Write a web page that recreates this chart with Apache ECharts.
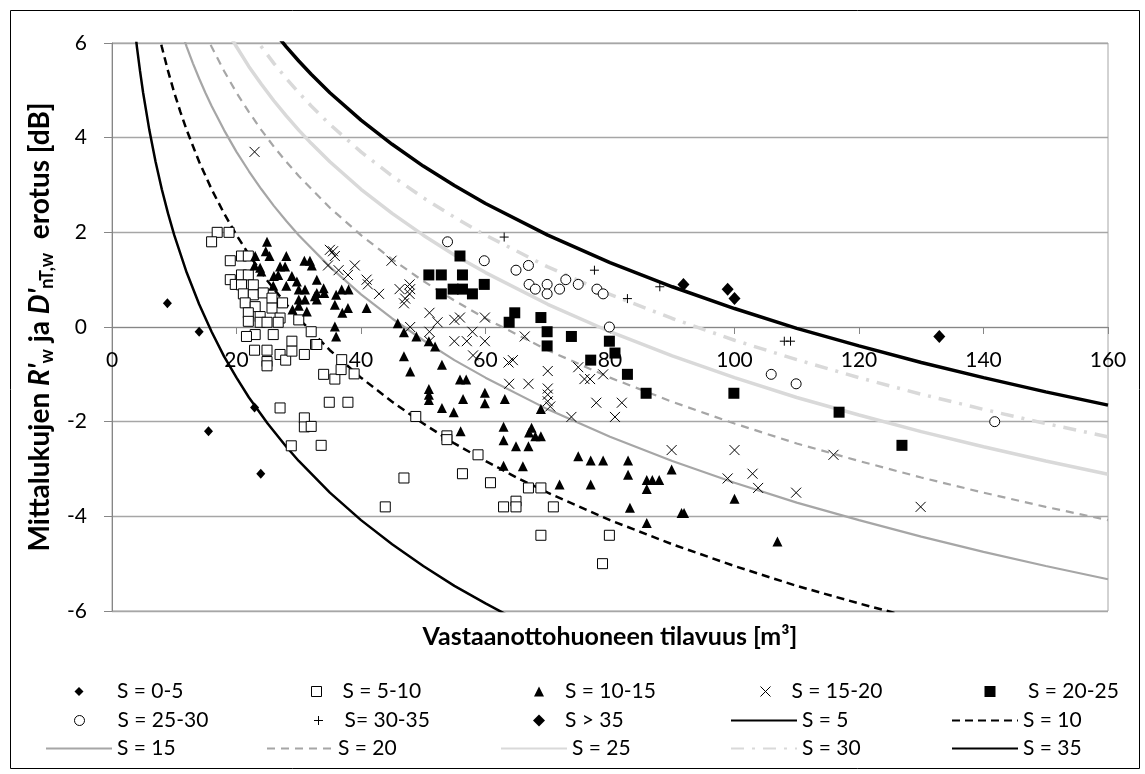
<!DOCTYPE html>
<html><head><meta charset="utf-8">
<script src="https://cdn.jsdelivr.net/npm/echarts/dist/echarts.min.js"></script>
<style>html,body{margin:0;padding:0;background:#fff}#c{width:1145px;height:774px}</style>
</head><body><div id="c"></div>
<script>
// ---- axis ticks ----
const xTicks = [0, 20, 40, 60, 80, 100, 120, 140, 160];
const yTicks = [-6, -4, -2, 0, 2, 4, 6];

// ---- measured points [volume m3, difference dB] ----
const s0_5 = [[8.9,0.5],[14.0,-0.1],[22.9,-1.7],[15.5,-2.2],[23.9,-3.1]];
const s5_10 = [[16.9,2.0],[18.8,2.0],[16.0,1.8],[19.0,1.4],[20.8,1.5],[21.9,1.5],[19.0,1.0],[19.8,0.9],[20.8,1.1],[21.9,1.1],
  [20.8,0.89],[22.7,0.89],[21.1,0.7],[22.7,0.68],[24.3,0.72],[21.4,0.51],[23.0,0.43],[25.7,0.61],[27.4,0.51],[25.7,0.4],
  [21.9,0.3],[23.8,0.22],[27.0,0.19],[21.9,0.12],[23.8,0.1],[24.9,0.1],[26.7,0.1],[30.0,0.15],[32.0,-0.1],[23.0,-0.16],
  [25.9,-0.16],[21.6,-0.2],[28.9,-0.3],[22.9,-0.49],[24.9,-0.49],[24.9,-0.73],[24.9,-0.82],[27.0,-0.58],[27.9,-0.7],[28.9,-0.51],
  [30.9,-0.58],[32.7,-0.37],[32.9,-0.37],[27.0,-1.71],[30.9,-1.92],[30.9,-2.11],[32.0,-2.1],[28.8,-2.51],[33.6,-2.5],[34.0,-1.0],
  [35.8,-1.1],[36.9,-0.69],[36.8,-0.9],[38.9,-0.99],[34.9,-1.59],[37.9,-1.59],[48.8,-1.89],[53.8,-2.3],[53.8,-2.38],[58.8,-2.7],
  [56.3,-3.1],[60.8,-3.29],[46.9,-3.19],[43.9,-3.8],[62.9,-3.8],[66.9,-3.4],[68.9,-3.4],[64.9,-3.68],[64.9,-3.8],[70.9,-3.8],
  [68.9,-4.4],[79.9,-4.4],[78.8,-5.0]];
const s10_15 = [[24.9,1.8],[24.7,1.6],[23.0,1.5],[25.3,1.5],[28.0,1.5],[30.9,1.4],[31.8,1.4],[32.1,1.3],[22.9,1.3],[23.8,1.25],
  [27.0,1.28],[27.8,1.28],[24.0,1.17],[26.0,1.08],[26.7,1.1],[28.9,1.08],[32.9,1.0],[25.9,0.87],[28.0,0.87],[29.7,0.96],
  [30.0,0.79],[31.0,0.79],[32.6,0.65],[30.0,0.58],[31.0,0.58],[29.0,0.37],[31.3,0.33],[30.0,0.45],[34.0,0.82],[32.9,0.72],
  [34.1,0.72],[32.9,0.58],[36.0,0.68],[36.9,0.79],[38.0,0.79],[35.8,0.47],[37.9,0.40],[37.0,0.30],[40.9,0.40],[45.9,0.08],
  [46.9,-0.11],[48.9,-0.2],[50.9,-0.3],[51.9,-0.41],[35.8,0.01],[36.0,-0.2],[46.9,-0.62],[47.9,-0.94],[53.0,-0.8],[55.9,-1.11],
  [56.9,-1.11],[50.9,-1.31],[50.9,-1.43],[50.9,-1.54],[53.0,-1.71],[54.9,-1.8],[56.4,-1.52],[59.9,-1.39],[59.9,-1.61],[63.1,-1.52],
  [56.0,-2.2],[62.9,-2.11],[62.9,-2.39],[62.9,-2.93],[64.9,-2.52],[66.9,-2.52],[67.4,-2.13],[67.0,-2.23],[68.0,-2.31],[68.9,-2.31],
  [68.9,-1.73],[66.0,-2.94],[71.9,-3.33],[74.9,-2.73],[76.9,-2.82],[78.9,-2.82],[76.9,-3.33],[82.9,-2.82],[82.9,-3.12],[85.9,-3.23],
  [86.8,-3.23],[87.9,-3.23],[85.9,-3.42],[89.9,-3.01],[83.2,-3.82],[85.9,-4.14],[91.5,-3.93],[91.9,-3.93],[100.0,-3.63],[106.9,-4.53]];
const s15_20 = [[22.9,3.7],[35.0,1.63],[35.5,1.6],[35.8,1.5],[34.7,1.3],[36.4,1.2],[39.0,1.3],[37.9,1.1],[44.9,1.4],[40.9,1.0],
  [41.1,0.9],[42.9,0.7],[46.2,0.8],[47.8,0.9],[47.9,0.8],[47.1,0.6],[46.9,0.5],[47.8,0.7],[51.0,0.3],[52.3,0.1],
  [55.0,0.15],[55.9,0.2],[59.9,0.2],[47.9,0.0],[51.0,-0.1],[51.0,-0.3],[57.9,-0.1],[55.0,-0.3],[57.0,-0.3],[59.9,-0.3],
  [58.0,-0.6],[63.7,-0.75],[63.8,-1.2],[66.3,-0.2],[64.4,-0.7],[70.0,-0.93],[74.9,-0.85],[75.9,-1.1],[76.8,-1.1],[78.9,-1.0],
  [66.9,-1.2],[70.0,-1.3],[70.0,-1.43],[70.0,-1.57],[70.4,-1.68],[77.8,-1.6],[81.9,-1.6],[73.8,-1.9],[80.8,-1.9],[89.9,-2.6],
  [100.0,-2.6],[115.9,-2.7],[98.9,-3.2],[102.9,-3.1],[103.8,-3.4],[109.9,-3.5],[129.9,-3.8]];
const s20_25 = [[55.9,1.5],[50.9,1.1],[52.9,1.1],[56.3,1.1],[52.9,0.7],[54.8,0.8],[56.3,0.8],[57.9,0.7],[59.8,0.9],[63.8,0.1],
  [64.7,0.3],[68.9,0.2],[69.9,-0.1],[69.9,-0.4],[73.8,-0.2],[79.9,-0.3],[76.9,-0.7],[80.8,-0.55],[82.8,-1.0],[85.8,-1.4],
  [99.9,-1.4],[116.8,-1.8],[126.9,-2.5]];
const s25_30 = [[53.9,1.8],[59.8,1.4],[64.9,1.2],[66.9,1.3],[67.0,0.9],[68.0,0.8],[69.9,0.9],[69.9,0.7],[71.9,0.8],[72.9,1.0],
  [74.9,0.9],[77.9,0.8],[78.9,0.7],[79.9,0.0],[105.9,-1.0],[109.9,-1.2],[141.8,-2.0]];
const s30_35 = [[63.0,1.9],[77.5,1.2],[88.0,0.85],[82.8,0.6],[108.0,-0.3],[109.0,-0.3]];
const s35p = [[91.8,0.9],[98.9,0.8],[100.0,0.6],[132.9,-0.2]];

// ---- reference curves (tabulated values) ----
const c5  = [[3.5,6.50],[4,5.92],[4.5,5.41],[5,4.95],[6,4.16],[7,3.49],[8,2.91],[9,2.40],[10,1.94],[12,1.15],[14,0.48],[16,-0.10],[18,-0.62],[20,-1.07],[22,-1.49],[25,-2.04],[28,-2.53],[30,-2.83],[35,-3.50],[40,-4.08],[45,-4.59],[50,-5.05],[55,-5.47],[60,-5.84],[65,-6.19]];
const c10 = [[7,6.50],[8,5.92],[9,5.41],[10,4.95],[11,4.54],[12,4.16],[14,3.49],[16,2.91],[18,2.40],[20,1.94],[22,1.53],[25,0.97],[28,0.48],[30,0.18],[35,-0.49],[40,-1.07],[45,-1.58],[50,-2.04],[55,-2.46],[60,-2.83],[65,-3.18],[70,-3.50],[80,-4.08],[90,-4.59],[100,-5.05],[110,-5.47],[120,-5.84],[130,-6.19]];
const c15 = [[10,6.71],[11,6.30],[12,5.92],[13,5.57],[14,5.25],[15,4.95],[16,4.67],[18,4.16],[20,3.70],[22,3.29],[24,2.91],[26,2.56],[28,2.24],[30,1.94],[35,1.27],[40,0.69],[45,0.18],[50,-0.28],[55,-0.70],[60,-1.07],[70,-1.74],[80,-2.32],[90,-2.83],[100,-3.29],[110,-3.71],[120,-4.08],[130,-4.43],[140,-4.75],[150,-5.05],[160,-5.33]];
const c20 = [[14,6.50],[15,6.20],[16,5.92],[18,5.41],[20,4.95],[22,4.54],[24,4.16],[26,3.81],[28,3.49],[30,3.19],[35,2.52],[40,1.94],[45,1.43],[50,0.97],[55,0.56],[60,0.18],[70,-0.49],[80,-1.07],[90,-1.58],[100,-2.04],[110,-2.46],[120,-2.83],[130,-3.18],[140,-3.50],[150,-3.80],[160,-4.08]];
const c25 = [[18,6.38],[20,5.92],[22,5.50],[24,5.13],[26,4.78],[28,4.46],[30,4.16],[32,3.88],[35,3.49],[40,2.91],[45,2.40],[50,1.94],[55,1.52],[60,1.15],[70,0.48],[80,-0.10],[90,-0.61],[100,-1.07],[110,-1.49],[120,-1.86],[130,-2.21],[140,-2.53],[150,-2.83],[160,-3.11]];
const c30 = [[22,6.30],[24,5.92],[26,5.57],[28,5.25],[30,4.95],[32,4.67],[35,4.28],[40,3.70],[45,3.19],[50,2.73],[55,2.32],[60,1.94],[70,1.27],[80,0.69],[90,0.18],[100,-0.28],[110,-0.69],[120,-1.07],[130,-1.42],[140,-1.74],[150,-2.04],[160,-2.32]];
const c35 = [[26,6.24],[28,5.92],[30,5.62],[32,5.34],[35,4.95],[40,4.37],[45,3.86],[50,3.40],[55,2.99],[60,2.61],[70,1.94],[80,1.36],[90,0.85],[100,0.39],[110,-0.03],[120,-0.40],[130,-0.75],[140,-1.07],[150,-1.37],[160,-1.65]];

const xTitle = 'Vastaanottohuoneen tilavuus [m³]';
const F = 'Lato, "Open Sans", sans-serif';
const GRAY = '#a6a6a6';

const chart = echarts.init(document.getElementById('c'), null, {renderer: 'canvas'});

const crossPath = 'path://M0,0L10,10M10,0L0,10';
const plusPath = 'path://M5,0L5,10M0,5L10,5';

const scatterDefs = [
  {name: 'S = 0-5', data: s0_5, symbol: 'diamond', size: [9, 10], lg: 9, style: {color: '#000'}},
  {name: 'S = 5-10', data: s5_10, symbol: 'rect', size: 10, lg: 10, style: {color: '#fff', borderColor: '#000', borderWidth: 1}},
  {name: 'S = 10-15', data: s10_15, symbol: 'triangle', size: [10, 10], lg: 10, style: {color: '#000'}},
  {name: 'S = 15-20', data: s15_20, symbol: crossPath, size: 10, lg: 10, style: {color: 'none', borderColor: '#000', borderWidth: 1}},
  {name: 'S = 20-25', data: s20_25, symbol: 'rect', size: 11, lg: 11, style: {color: '#000'}},
  {name: 'S = 25-30', data: s25_30, symbol: 'circle', size: 10, lg: 10, style: {color: '#fff', borderColor: '#000', borderWidth: 1}},
  {name: 'S= 30-35', data: s30_35, symbol: plusPath, size: 9, lg: 9, style: {color: 'none', borderColor: '#000', borderWidth: 1}},
  {name: 'S > 35', data: s35p, symbol: 'diamond', size: [12, 13], lg: 12, style: {color: '#000'}}
];
const lineDefs = [
  {name: 'S = 5', data: c5, ls: {color: '#000', width: 2.5, type: 'solid'}},
  {name: 'S = 10', data: c10, ls: {color: '#000', width: 2.5, type: [8, 5]}},
  {name: 'S = 15', data: c15, ls: {color: GRAY, width: 2.2, type: 'solid'}},
  {name: 'S = 20', data: c20, ls: {color: GRAY, width: 2.2, type: [8, 6]}},
  {name: 'S = 25', data: c25, ls: {color: '#d9d9d9', width: 3.5, type: 'solid'}},
  {name: 'S = 30', data: c30, ls: {color: '#d9d9d9', width: 3.5, type: [13, 8, 3, 8]}},
  {name: 'S = 35', data: c35, ls: {color: '#000', width: 3.5, type: 'solid'}}
];

const series = [];
lineDefs.forEach(d => series.push({
  type: 'line', name: d.name, data: d.data, symbol: 'none', smooth: false,
  clip: true, silent: true, z: 1, lineStyle: d.ls, itemStyle: {color: d.ls.color}
}));
scatterDefs.forEach(d => series.push({
  type: 'scatter', name: d.name, data: d.data, symbol: d.symbol, symbolSize: d.size,
  itemStyle: Object.assign({opacity: 1}, d.style), z: 3, silent: true
}));

// legend layout: 3 rows x 5 columns  [name, text x, row, marker centre x]
const legendLayout = [
  ['S = 0-5', 117, 0, 79], ['S = 5-10', 342, 0, 316], ['S = 10-15', 565, 0, 539], ['S = 15-20', 789, 0, 763], ['S = 20-25', 1028, 0, 990],
  ['S = 25-30', 117, 1, 79], ['S= 30-35', 342, 1, 316], ['S > 35', 565, 1, 539], ['S = 5', 802, 1, 0], ['S = 10', 1023, 1, 0],
  ['S = 15', 117, 2, 0], ['S = 20', 338, 2, 0], ['S = 25', 572, 2, 0], ['S = 30', 802, 2, 0], ['S = 35', 1023, 2, 0]
];
const rowY = [692, 721, 749];
const LFS = 21;
const legends = legendLayout.map(([name, tx, row, mx]) => {
  const sd = scatterDefs.find(s => s.name === name);
  if (sd) {
    const h = sd.lg;
    return {
      show: true, data: [name], left: mx - h / 2, top: rowY[row] - 11, padding: 0,
      itemWidth: h, itemHeight: h, selectedMode: false,
      itemStyle: {borderWidth: sd.style.borderWidth || 0},
      textStyle: {fontFamily: F, fontSize: LFS, color: '#000', padding: [0, 0, 0, Math.max(0, tx - (mx + h / 2 + 5))]}
    };
  }
  return {
    show: true, data: [name], left: tx - 72, top: rowY[row] - 11, padding: 0,
    itemWidth: 66, itemHeight: 10, selectedMode: false,
    itemStyle: {opacity: 0, borderWidth: 0},
    textStyle: {fontFamily: F, fontSize: LFS, color: '#000'}
  };
});

const option = {
  animation: false,
  backgroundColor: '#fff',
  textStyle: {fontFamily: F},
  grid: {left: 112, right: 37, top: 43, bottom: 163, show: true, borderColor: GRAY, borderWidth: 1, containLabel: false, outerBoundsMode: 'none'},
  xAxis: {
    type: 'value', position: 'bottom', offset: -284,
    min: xTicks[0], max: xTicks[xTicks.length - 1], interval: xTicks[1] - xTicks[0],
    name: xTitle, nameLocation: 'middle', nameGap: 297,
    nameTextStyle: {fontFamily: F, fontSize: 25, fontWeight: 'bold', color: '#000'},
    axisLine: {onZero: false, lineStyle: {color: '#868686', width: 1}},
    axisTick: {show: true, inside: false, length: 7, lineStyle: {color: '#868686'}},
    axisLabel: {margin: 23, fontFamily: F, fontSize: 21, color: '#000', showMinLabel: true, showMaxLabel: true, hideOverlap: false},
    splitLine: {show: false}
  },
  yAxis: {
    type: 'value', min: yTicks[0], max: yTicks[yTicks.length - 1], interval: yTicks[1] - yTicks[0],
    name: '{t|Mittalukujen }{i|R\'}{s|w}{t| ja }{i|D\'}{s|nT,w}{t|  erotus [dB]}',
    nameLocation: 'middle', nameRotate: 90, nameGap: 50,
    nameTextStyle: {
      color: '#000',
      rich: {
        t: {fontFamily: F, fontSize: 28, fontWeight: 'bold', color: '#000', lineHeight: 32},
        i: {fontFamily: F, fontSize: 28, fontWeight: 'bold', fontStyle: 'italic', color: '#000', lineHeight: 32},
        s: {fontFamily: F, fontSize: 18, fontWeight: 'bold', color: '#000', verticalAlign: 'bottom', lineHeight: 17}
      }
    },
    axisLine: {show: true, lineStyle: {color: '#868686', width: 1}},
    axisTick: {show: true, inside: false, length: 8, lineStyle: {color: '#868686'}},
    axisLabel: {margin: 25, fontFamily: F, fontSize: 21, color: '#000', showMinLabel: true, showMaxLabel: true},
    splitLine: {show: true, lineStyle: {color: GRAY, width: 1.3}}
  },
  legend: legends,
  graphic: [{
    type: 'rect', left: 8, top: 8, shape: {width: 1129, height: 758}, silent: true, z: -10,
    style: {fill: 'none', stroke: '#000', lineWidth: 1}
  }],
  series: series
};
chart.setOption(option);
</script></body></html>
